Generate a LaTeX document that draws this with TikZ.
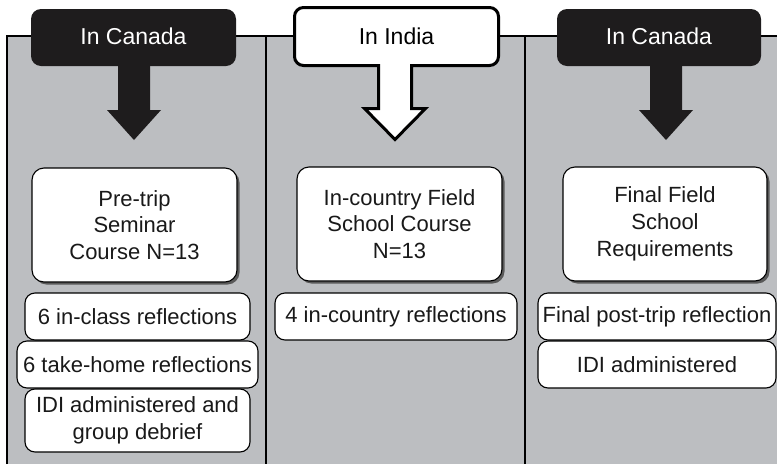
\documentclass[tikz,border=0pt]{standalone}
\usepackage{fontspec}
\setmainfont{Liberation Sans}
\usetikzlibrary{shadows}
\definecolor{panelgray}{RGB}{188,190,193}
\definecolor{tabblack}{RGB}{30,28,29}
\newcommand\boxfont{\fontsize{22}{26.7}\selectfont}
\newcommand\tabfont{\fontsize{23}{27}\selectfont}
\begin{document}
\begin{tikzpicture}[x=1pt,y=-1pt,
  boxbase/.style={draw=black, fill=white, line width=1.1pt, align=center, inner sep=0pt, font=\boxfont, text=black!90},
  mainbox/.style={boxbase, rounded corners=12pt, minimum width=205pt, minimum height=114pt,
     drop shadow={shadow xshift=2.5pt, shadow yshift=-2.5pt, fill=black!65, opacity=1}},
  smallbox/.style={boxbase, rounded corners=10pt, minimum height=47pt},
  tabtext/.style={font=\tabfont, inner sep=0pt},
  panelline/.style={line width=1.6pt, draw=black}
]
\useasboundingbox (0,0) rectangle (777,464);
% panels
\fill[panelgray] (7,36) rectangle (777,464);
\draw[panelline] (7,464) -- (7,36) -- (777,36);
\draw[panelline] (266,36) -- (266,464);
\draw[panelline] (525,36) -- (525,464);

% tab 1 (black)
\fill[tabblack, rounded corners=10pt] (31,9) rectangle (236,66);
\fill[tabblack] (118,60) -- (150,60) -- (150,110) -- (161,110) -- (134,140) -- (107,110) -- (118,110) -- cycle;
\node[tabtext, text=white] (t1) at (133.5,36) {In Canada};

% tab 2 (white outline)
\draw[fill=white, line width=3pt, line join=miter]
  (378.5,65.5) [rounded corners=9pt] -- (294.5,65.5) -- (294.5,7.5) -- (498.5,7.5) -- (498.5,65.5) [sharp corners] -- (411.5,65.5)
  -- (411.5,108.5) -- (425.5,108.5) -- (395,139.5) -- (364.5,108.5) -- (378.5,108.5) -- cycle;
\node[tabtext, text=black] (t2) at (396.5,36) {In India};

% tab 3 (black)
\fill[tabblack, rounded corners=10pt] (557,9) rectangle (761,66);
\fill[tabblack] (650,60) -- (682,60) -- (682,110) -- (693,110) -- (666,140) -- (639,110) -- (650,110) -- cycle;
\node[tabtext, text=white] (t3) at (659,36) {In Canada};

% panel 1
\node[mainbox] (m1) at (134.5,225) {Pre-trip\\Seminar\\Course N=13};
\node[smallbox, minimum width=225pt] (a1) at (137.5,316.5) {6 in-class reflections};
\node[smallbox, minimum width=241pt] (a2) at (137.5,364.5) {6 take-home reflections};
\node[smallbox, minimum width=225pt, minimum height=63pt] (a3) at (137.5,420.5) {IDI administered and\\group debrief};

% panel 2
\node[mainbox] (m2) at (399.5,224) {In-country Field\\School Course\\N=13};
\node[smallbox, minimum width=242pt] (b1) at (396,316.5) {4 in-country reflections};

% panel 3
\node[mainbox, minimum width=204pt] (m3) at (665,224) {Final Field\\School\\Requirements};
\node[smallbox, minimum width=238pt] (c1) at (657,316.5) {Final post-trip reflection};
\node[smallbox, minimum width=238pt] (c2) at (657,364.5) {IDI administered};
\end{tikzpicture}
\end{document}
